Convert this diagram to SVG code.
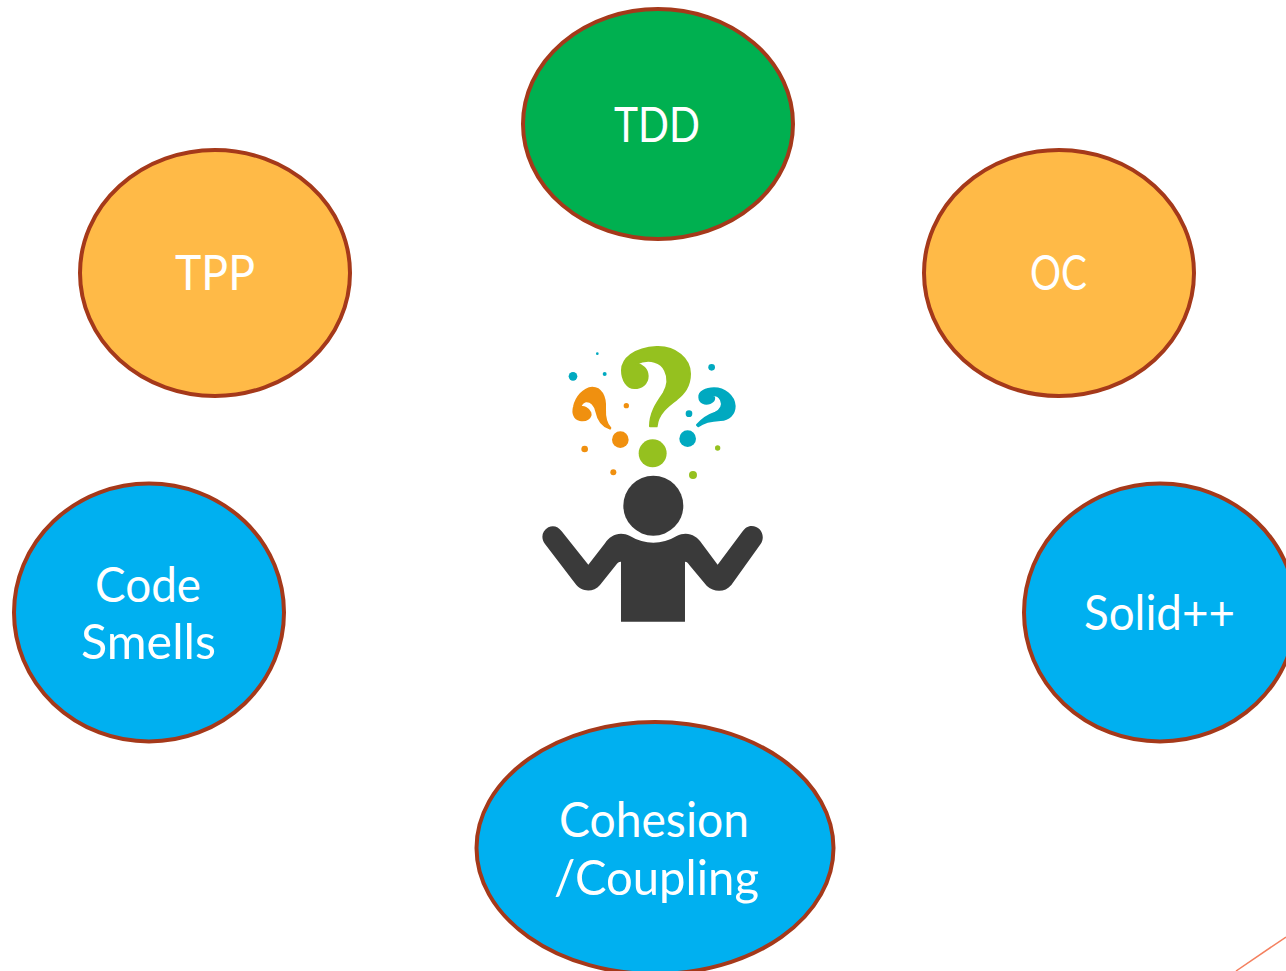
<svg xmlns="http://www.w3.org/2000/svg" width="1286" height="971" viewBox="0 0 1286 971">
<style>
.n{stroke:#A5391A;stroke-width:4}
.g{fill:#00B050}.o{fill:#FFBA47}.b{fill:#00B0F0}
text{font-family:"Lato","Noto Sans",sans-serif;font-size:49px;fill:#fff;text-anchor:middle}
.gr{fill:#95C11F}.or{fill:#F0900F}.te{fill:#00A9C0}.dk{fill:#3A3A3A}
.q{stroke-width:6;stroke-linejoin:round}
.q.gr{stroke:#95C11F}.q.or{stroke:#F0900F}.q.te{stroke:#00A9C0}
</style>
<rect width="1286" height="971" fill="#fff"/>
<g id="node-tdd"><ellipse class="n g" cx="658" cy="124" rx="135" ry="115"/><text x="657" y="142" textLength="86" lengthAdjust="spacingAndGlyphs">TDD</text></g>
<g id="node-tpp"><ellipse class="n o" cx="215" cy="273" rx="135" ry="123"/><text x="215" y="290" textLength="80" lengthAdjust="spacingAndGlyphs">TPP</text></g>
<g id="node-oc"><ellipse class="n o" cx="1059" cy="273" rx="135" ry="123"/><text x="1058.500" y="290" textLength="57" lengthAdjust="spacingAndGlyphs">OC</text></g>
<g id="node-code-smells"><ellipse class="n b" cx="149" cy="612.500" rx="135" ry="129"/><text x="148" y="602" textLength="106" lengthAdjust="spacingAndGlyphs">Code</text><text x="148.500" y="659" textLength="135" lengthAdjust="spacingAndGlyphs">Smells</text></g>
<g id="node-solid"><ellipse class="n b" cx="1160" cy="612.500" rx="136" ry="129"/><text x="1159.500" y="630" textLength="151" lengthAdjust="spacingAndGlyphs">Solid++</text></g>
<g id="node-cohesion"><ellipse class="n b" cx="655" cy="848" rx="178.500" ry="126"/><text x="654" y="837" textLength="190" lengthAdjust="spacingAndGlyphs">Cohesion</text><text x="656.500" y="895" textLength="205" lengthAdjust="spacingAndGlyphs">/Coupling</text></g>
<g id="question-marks">
<path class="q gr" transform="translate(615 342) scale(.3333)" d="M105 253C105 215 122 188 145 155C160 130 160 105 150 85C140 62 105 46 64 65C82 68 98 82 98 102C98 125 80 138 58 138C37 138 21 115 21 85C21 52 57 18 125 15C183 13 225 52 225 95C225 135 205 155 185 172C160 190 128 215 125 253Z"/>
<g transform="translate(530 340) scale(.3333)">
<circle class="gr" cx="368" cy="340" r="42"/><circle class="gr" cx="489" cy="405" r="12"/><circle class="gr" cx="563" cy="324" r="8"/>
<circle class="or" cx="271" cy="299" r="25"/><circle class="or" cx="289" cy="197" r="8"/><circle class="or" cx="164" cy="327" r="10"/><circle class="or" cx="250" cy="397" r="9"/>
<circle class="te" cx="473" cy="296" r="25"/><circle class="te" cx="477" cy="221" r="10"/><circle class="te" cx="545" cy="82" r="10"/><circle class="te" cx="129" cy="109" r="13"/><circle class="te" cx="224" cy="102" r="6"/><circle class="te" cx="202" cy="41" r="4"/>
</g>
<path class="q or" transform="translate(565 380) scale(.3333)" d="M135 146C115 140 100 125 94 95C90 76 78 62 62 64C54 66 48 74 45 83C56 78 70 85 76 98C80 112 64 124 45 120C28 116 22 100 27 80C33 52 55 25 82 23C108 23 122 50 120 85C119 110 123 130 136 144Z"/>
<path class="q te" transform="translate(690 380) scale(.3333)" d="M21 135C38 115 58 104 76 98C93 90 100 75 93 60C87 49 77 44 67 47C76 52 74 64 60 69C45 75 29 68 28 52C26 37 47 25 72 25C103 25 132 47 134 78C134 103 116 119 92 120C70 121 45 123 25 139Z"/>
</g>
<g id="person" transform="translate(530 470) scale(.3333)">
<circle class="dk" cx="370" cy="107" r="90"/>
<path class="dk" d="M273 455H465V275C472 275 474 280 478 285L530 347C552 368 585 368 604 345L692 222C708 198 692 168 665 168C652 168 645 175 638 184L563 284L515 220C500 195 470 182 440 198C395 225 345 225 300 198C270 182 240 195 225 220L175 284L95 184C85 170 70 165 55 172C35 183 32 205 45 222L135 340C155 368 190 368 210 345L258 285C262 280 265 275 273 275Z"/>
</g>
<g id="connectors"><path d="M1236 971L1286 937" fill="none" stroke="#F4805F" stroke-width="1.500"/></g>
</svg>
